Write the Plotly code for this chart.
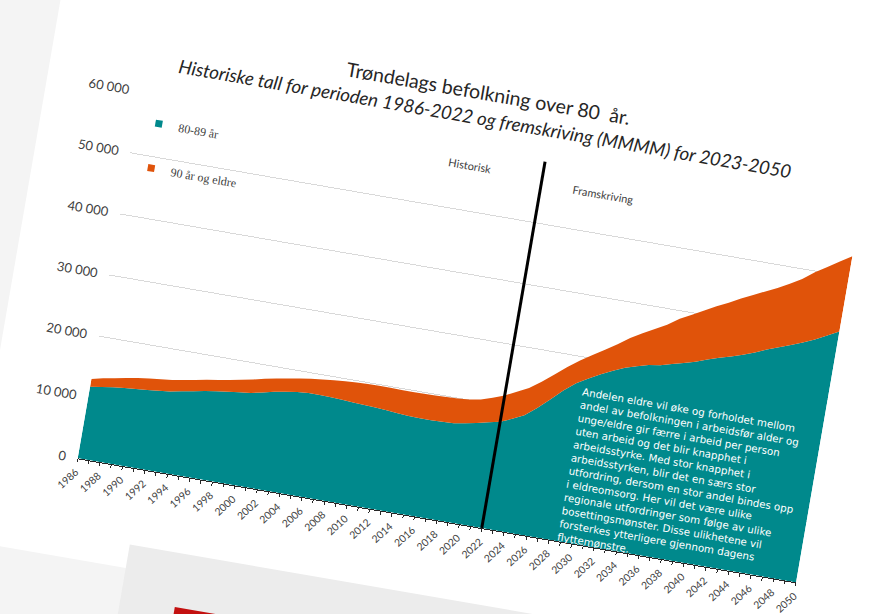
import plotly.graph_objects as go

# ---------------- data ----------------
years = list(range(1986, 2051))

aged_80_89 = [11700, 12000, 12250, 12450, 12600, 12780, 12940, 13150, 13500, 13850,
              14200, 14450, 14700, 14930, 15150, 15550, 15950, 16300, 16550, 16700,
              16720, 16650, 16550, 16450, 16350, 16250, 16100, 15950, 15820, 15760,
              15760, 15800, 15900, 16200, 16550, 17000, 17400, 18200, 19100, 20600,
              22300, 24100, 25600, 26700, 27700, 28600, 29400, 30000, 30500, 30800,
              31300, 31800, 32300, 33000, 33600, 34100, 34700, 35400, 36200, 36900,
              37600, 38300, 39100, 40100, 41050]

aged_90_plus = [1290, 1400, 1500, 1650, 1800, 1870, 1910, 1900, 1850, 1820,
                1820, 1850, 1920, 2070, 2200, 2230, 2200, 2170, 2220, 2350,
                2530, 2800, 3050, 3250, 3430, 3550, 3690, 3810, 3920, 3990,
                4040, 4080, 4050, 3900, 3850, 4000, 4300, 4450, 4450, 4300,
                4100, 3850, 3750, 3850, 4050, 4350, 4900, 5400, 5900, 6600,
                7400, 7900, 8400, 8700, 9000, 9500, 9800, 10000, 10100, 10400,
                10800, 11500, 11900, 12100, 12350]

series_names = ["80-89 år", "90 år og eldre"]
y_tick_vals = [0, 10000, 20000, 30000, 40000, 50000, 60000]
y_tick_text = ["0", "10 000", "20 000", "30 000", "40 000", "50 000", "60 000"]
x_tick_vals = list(range(1986, 2051, 2))
split_year = 2022

title_text = "Trøndelags befolkning over 80\u00a0 år."
subtitle_text = "Historiske tall for perioden 1986-2022 og fremskriving (MMMM) for 2023-2050"
label_hist = "Historisk"
label_proj = "Framskriving"
note_lines = [
    "Andelen eldre vil øke og forholdet mellom",
    "andel av befolkningen i arbeidsfør alder og",
    "unge/eldre gir færre i arbeid per person",
    "uten arbeid og det blir knapphet i",
    "arbeidsstyrke. Med stor knapphet i",
    "arbeidsstyrken, blir det en særs stor",
    "utfordring, dersom en stor andel bindes opp",
    "i eldreomsorg. Her vil det være ulike",
    "regionale utfordringer som følge av ulike",
    "bosettingsmønster. Disse ulikhetene vil",
    "forsterkes ytterligere gjennom dagens",
    "flyttemønstre.",
]

# ---------------- style ----------------
TEAL = "#00898C"
ORANGE = "#E0530A"
W, H = 1005, 800
ML, MT, PW, PH = 175, 235, 729, 372
MR, MB = W - ML - PW, H - MT - PH

fig = go.Figure()

fig.add_trace(go.Scatter(x=years, y=aged_80_89, stackgroup="one", mode="none",
                         fillcolor=TEAL, name=series_names[0], showlegend=False))
fig.add_trace(go.Scatter(x=years, y=aged_90_plus, stackgroup="one", mode="none",
                         fillcolor=ORANGE, name=series_names[1], showlegend=False))

# legend entries (small squares like the original)
fig.add_trace(go.Scatter(x=[None], y=[None], mode="markers", name=series_names[0],
                         marker=dict(symbol="square", size=7, color=TEAL),
                         legendgroup="a"))
fig.add_trace(go.Scatter(x=[None], y=[None], mode="markers", name=series_names[1],
                         marker=dict(symbol="square", size=7, color=ORANGE),
                         legendgroup="b"))

def px(u):
    return u / PW

def py(v):
    return v / PH

shapes = [
    # white slide
    dict(type="rect", xref="paper", yref="paper", x0=px(-95), x1=px(1100),
         y0=py(-100), y1=py(900), fillcolor="#ffffff", line=dict(width=0), layer="below"),
    # slide underneath (grey)
    dict(type="rect", xref="paper", yref="paper", x0=px(66), x1=px(1200),
         y0=py(-600), y1=py(-76), fillcolor="#ececec", line=dict(width=0), layer="below"),
    # red bar on that slide
    dict(type="rect", xref="paper", yref="paper", x0=px(121), x1=px(600),
         y0=py(-300), y1=py(-130), fillcolor="#c3100f", line=dict(width=0), layer="below"),
    # split line
    dict(type="line", xref="x", yref="y", x0=split_year, x1=split_year, y0=0, y1=60000,
         line=dict(color="#000000", width=3), layer="above"),
]

annotations = [
    dict(text="<i>" + subtitle_text + "</i>", xref="paper", yref="paper",
         x=px(343.5), y=py(404), xanchor="center", yanchor="middle", showarrow=False,
         font=dict(family="Lato", size=18.6, color="#262626")),
    dict(text=label_hist, xref="x", yref="y", x=2015.5, y=57350, showarrow=False,
         font=dict(family="Lato", size=11, color="#404040")),
    dict(text=label_proj, xref="x", yref="y", x=2027.5, y=56300, showarrow=False,
         font=dict(family="Lato", size=11, color="#404040")),
    dict(text="<br>".join(note_lines), xref="x", yref="y", x=2028.5, y=25800,
         xanchor="left", yanchor="top", align="left", showarrow=False,
         font=dict(family="DejaVu Sans", size=10.3, color="#ffffff")),
]

title_x = (ML + 342.6) / W
title_y = 1 - (MT + PH - 429) / H

fig.update_layout(
    width=W, height=H,
    margin=dict(l=ML, r=MR, t=MT, b=MB, autoexpand=False),
    paper_bgcolor="#f4f4f4",
    plot_bgcolor="#ffffff",
    title=dict(text=title_text, xref="container", yref="container", x=title_x, y=title_y,
               xanchor="center", yanchor="middle",
               font=dict(family="Lato", size=19.5, color="#262626")),
    xaxis=dict(range=[1986, 2050], tickvals=x_tick_vals, ticktext=[str(v) for v in x_tick_vals],
               tickangle=-52, showgrid=False, zeroline=False,
               showline=True, linecolor="#262626", linewidth=1,
               ticks="outside", ticklen=3, tickcolor="#262626",
               minor=dict(dtick=1, tick0=1986, ticks="outside", ticklen=3, tickcolor="#262626"),
               tickfont=dict(family="Lato", size=10.3, color="#404040")),
    yaxis=dict(range=[0, 60000], tickvals=y_tick_vals, ticktext=y_tick_text,
               showgrid=True, gridcolor="#d9d9d9", gridwidth=1, zeroline=False,
               showline=False, ticks="", ticklabelstandoff=11,
               tickfont=dict(family="Lato", size=13, color="#404040")),
    legend=dict(x=px(3), y=min(py(358), 1.0), xanchor="left", yanchor="top",
                bgcolor="rgba(0,0,0,0)", traceorder="grouped", tracegroupgap=26,
                font=dict(family="Liberation Serif", size=12, color="#404040")),
    shapes=shapes,
    annotations=annotations,
)

post_js = """
(function(){
  var gd = document.getElementById('{plot_id}');
  document.documentElement.style.overflow = 'hidden';
  document.body.style.margin = '0';
  document.body.style.overflow = 'hidden';
  document.body.style.background = '#f4f4f4';
  gd.style.position = 'absolute';
  gd.style.left = '0px';
  gd.style.top = '0px';
  gd.style.transformOrigin = '175px 607px';
  gd.style.transform = 'translate(-97.3px, -148.7px) rotate(9.8deg)';
})();
"""

fig.write_html("out.html", post_script=post_js)
